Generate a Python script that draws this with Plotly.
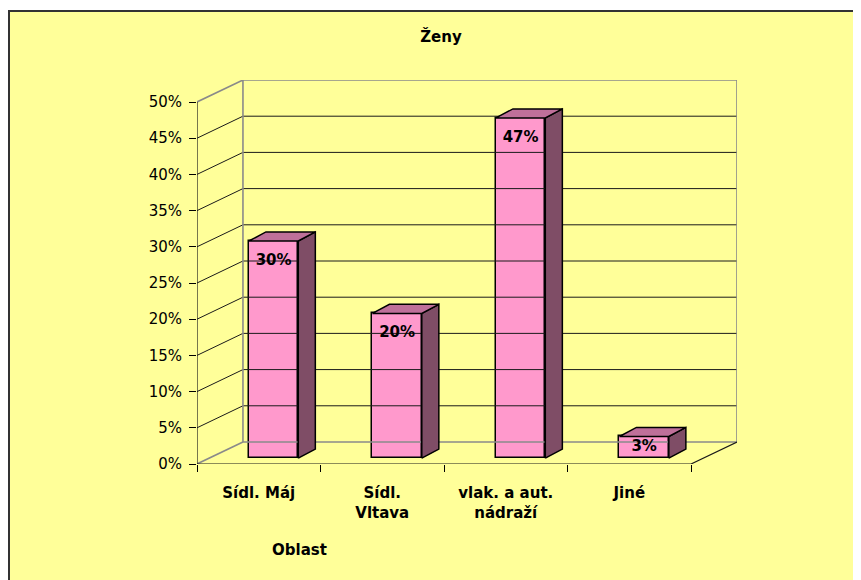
import plotly.graph_objects as go

# ---- data ----
categories = ["Sídl. Máj", "Sídl.<br>Vltava", "vlak. a aut.<br>nádraží", "Jiné"]
values = [30, 20, 47, 3]
value_labels = ["30%", "20%", "47%", "3%"]
y_ticks = [0, 5, 10, 15, 20, 25, 30, 35, 40, 45, 50]
y_tick_text = [f"{t}%" for t in y_ticks]

# ---- style constants (pseudo-3D geometry) ----
OFF = 8  # page body margin offset
W, H = 861 - OFF, 580 - OFF
ML, MT = 197 - OFF, 80 - OFF
MR, MB = W - (737 - OFF), H - (464 - OFF)
WALL_DX, WALL_DY = 0.372, 3.04
BAR_W = 0.40
BAR_FX, BAR_FY = 0.12, 0.8
BAR_DX, BAR_DY = 0.138, 1.25
LABEL_DROP = 2.8
FRONT = "#FF99CC"
SIDE = "#7F4D66"
TOP = "#BF709A"
GRID = "#1a1a1a"
WALLC = "#8a8a8a"
FONT = "DejaVu Sans"

n = len(categories)
xs = list(range(n))
x_lo, x_hi = -0.5, n - 0.5
y_max = y_ticks[-1]
PW, PH = W - ML - MR, H - MT - MB

fig = go.Figure()

def line(x, y, color, width=1.2):
    fig.add_trace(go.Scatter(x=x, y=y, mode="lines", line=dict(color=color, width=width),
                             hoverinfo="skip", showlegend=False))

# back wall gridlines + left wall diagonals
for t in y_ticks:
    if t in (0, y_max):
        continue
    line([x_lo, x_lo + WALL_DX, x_hi + WALL_DX], [t, t + WALL_DY, t + WALL_DY], GRID, 1)
# wall frames (gray)
line([x_lo, x_lo + WALL_DX, x_hi + WALL_DX, x_hi + WALL_DX, x_lo + WALL_DX, x_lo + WALL_DX, x_lo],
     [y_max, y_max + WALL_DY, y_max + WALL_DY, WALL_DY, WALL_DY, y_max + WALL_DY, y_max], WALLC, 1.6)
line([x_lo, x_lo + WALL_DX], [0, WALL_DY], WALLC, 1.6)
# floor front / right edges and y axis (black)
line([x_lo, x_hi, x_hi + WALL_DX], [0, 0, WALL_DY], GRID, 1.2)
line([x_lo, x_lo], [0, y_max], GRID, 1.2)

# bar side and top faces
for c, v in zip(xs, values):
    xl = c - BAR_W / 2 + BAR_FX
    xr = c + BAR_W / 2 + BAR_FX
    b0 = BAR_FY
    b1 = v + BAR_FY
    fig.add_trace(go.Scatter(
        x=[xr, xr + BAR_DX, xr + BAR_DX, xr, xr],
        y=[b0, b0 + BAR_DY, b1 + BAR_DY, b1, b0],
        mode="lines", fill="toself", fillcolor=SIDE, line=dict(color="black", width=1.5),
        hoverinfo="skip", showlegend=False))
    fig.add_trace(go.Scatter(
        x=[xl, xl + BAR_DX, xr + BAR_DX, xr, xl],
        y=[b1, b1 + BAR_DY, b1 + BAR_DY, b1, b1],
        mode="lines", fill="toself", fillcolor=TOP, line=dict(color="black", width=1.5),
        hoverinfo="skip", showlegend=False))

# front faces (real bars)
fig.add_trace(go.Bar(
    x=[c + BAR_FX for c in xs], y=values, base=BAR_FY, width=BAR_W,
    marker=dict(color=FRONT, line=dict(color="black", width=1.5)),
    hoverinfo="skip", showlegend=False))

# data labels (inside the front face, near its top)
label_y = [max(v + BAR_FY - LABEL_DROP, BAR_FY + v / 2) for v in values]
fig.add_trace(go.Scatter(
    x=[c + BAR_FX for c in xs], y=label_y,
    mode="text", text=value_labels, textposition="middle center",
    textfont=dict(family=FONT, size=15, color="black", weight="bold"),
    hoverinfo="skip", showlegend=False))

fig.update_layout(
    width=W, height=H,
    margin=dict(l=ML, r=MR, t=MT, b=MB, autoexpand=False),
    paper_bgcolor="white", plot_bgcolor="rgba(0,0,0,0)",
    showlegend=False, bargap=0,
    title=dict(text="<b>Ženy</b>", x=(441 - OFF) / W, xanchor="center",
               y=1 - (37 - OFF) / H, yanchor="middle",
               yref="container", xref="container",
               font=dict(family=FONT, size=15, color="black")),
    xaxis=dict(range=[x_lo, x_hi + WALL_DX], tickvals=xs, ticktext=categories,
               showgrid=False, zeroline=False, showline=False, ticks="",
               ticklabelstandoff=18,
               tickfont=dict(family=FONT, size=15, color="black", weight="bold"),
               minor=dict(tickvals=[x_lo + 0.0001 + i for i in range(n + 1)], ticks="outside",
                          ticklen=7, tickcolor="black", tickwidth=1.2, showgrid=False)),
    yaxis=dict(range=[0, y_max + WALL_DY], tickvals=y_ticks, ticktext=y_tick_text,
               showgrid=False, zeroline=False, showline=False, ticks="outside",
               ticklen=7, tickcolor="black", tickwidth=1.2, ticklabelstandoff=4,
               tickfont=dict(family=FONT, size=15, color="black")),
    shapes=[dict(type="rect", xref="paper", yref="paper", layer="below",
                 x0=(1 - ML) / PW, x1=(W + 10 - ML) / PW,
                 y0=-(MB + 10) / PH, y1=1 + (MT - (11 - OFF)) / PH,
                 fillcolor="#FFFF99", line=dict(color="#333333", width=2))],
    annotations=[dict(text="<b>Oblast</b>", xref="paper", yref="paper", showarrow=False,
                      x=(299 - OFF - ML) / PW, y=-(550 - OFF - (H - MB)) / PH,
                      xanchor="center", yanchor="middle",
                      font=dict(family=FONT, size=15, color="black"))],
)

fig.write_html("out.html")
